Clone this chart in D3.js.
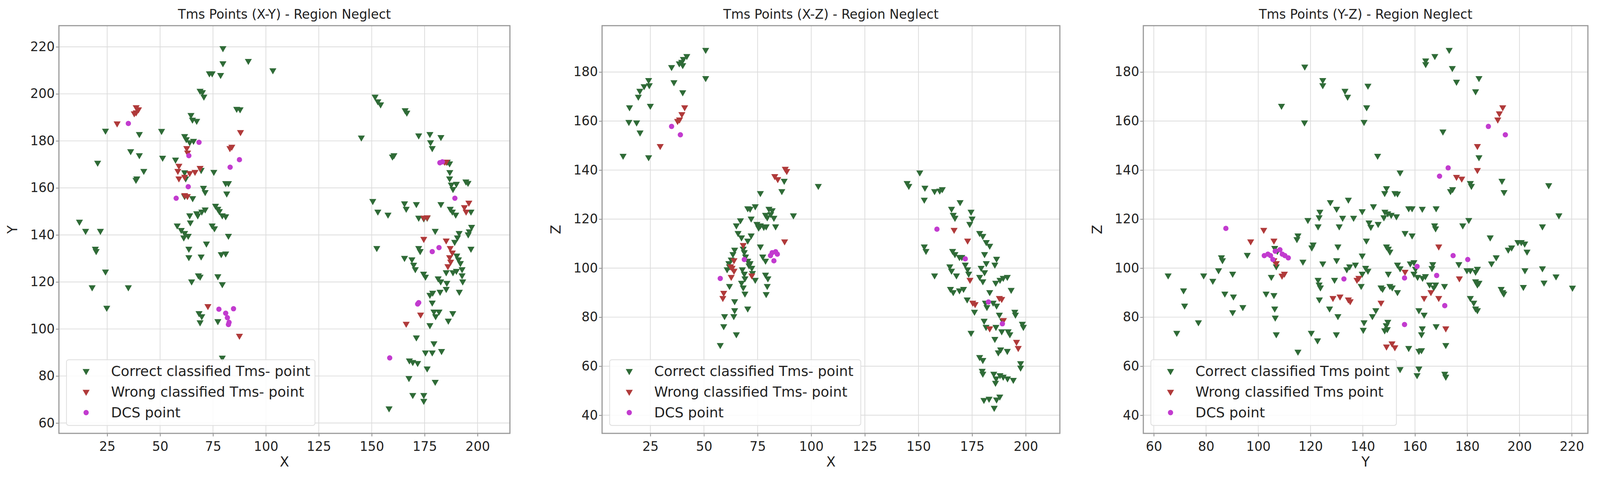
<!DOCTYPE html>
<html>
<head>
<meta charset="UTF-8">
<script src="https://cdn.jsdelivr.net/npm/d3@7"></script>
<style>
  html, body { margin: 0; padding: 0; background: #fff; overflow: hidden; }
  svg { display: block; width: 100vw; height: auto; }
  text { font-family: "DejaVu Sans", sans-serif; fill: #222; }
</style>
</head>
<body>
<svg id="chart" viewBox="0 0 4236 1250" preserveAspectRatio="xMinYMin meet"></svg>
<script>
// Panel 1: X-Y
const xyCorrect = [[79.7,219.4],[79.7,213],[91.7,214],[103.3,210],[73.3,208.7],[74.6,208.7],[78.6,208],[68.9,201.3],[70,200.7],[70.7,198.8],[151.6,198.8],[152.9,196.8],[154.2,195.5],[165.8,193],[166.6,192],[86.2,193.6],[87.8,193.4],[64.6,191],[65.3,189],[67.3,188.5],[24.2,184.3],[40.2,182.9],[50.7,184.2],[61.6,182],[62.4,180.7],[64,179.4],[65.8,180],[145.1,181.4],[172.2,182.3],[177.5,182.9],[182.7,181.6],[177.8,179.4],[178.6,176.9],[36.1,175.6],[40.2,173.9],[51.2,172.8],[20.5,170.7],[57.3,172],[160.5,173.9],[159.8,173.3],[185.7,171.1],[186.8,170.4],[42.3,167.2],[39,164],[38.6,163.4],[69.4,167.6],[75.4,166.8],[186.9,166.7],[186.8,164],[187.6,161.4],[188.4,159.5],[190,161.7],[194.5,162.7],[195.5,162.1],[61.6,166.6],[62.1,164],[70.5,160],[71.3,158.2],[81,162],[82.3,162],[81.5,157.6],[61.6,156.5],[65.4,155.6],[150.5,154.4],[152.9,149.9],[157.7,148.6],[165.5,153.4],[166.3,151.1],[171.1,153.1],[182.7,153.1],[76.2,152.4],[77.3,151.1],[78,150.1],[79.4,148.3],[81,147.9],[67.3,149.2],[69.7,149.9],[71.3,150.8],[67.8,148.3],[64,148.3],[64.3,145.3],[172.2,147.3],[174.6,147],[176.2,147.3],[187.1,151.1],[188.1,149.9],[189.7,148.6],[196.9,149.9],[197.2,143.4],[196.1,141.5],[195.6,140.2],[191.3,140.8],[190.5,138.9],[189.2,137],[58.1,144],[60,142.1],[61.6,140.8],[63.3,139.6],[61.2,138.9],[74.6,144],[75.7,142.8],[82.3,139.6],[11.9,145.6],[14.8,141.7],[21.8,141.7],[180,141.7],[196.9,134.1],[152.4,134.4],[172.2,134.4],[172.9,133.1],[71.9,136.3],[63.6,134.1],[63.6,130.5],[69.4,130.8],[78.9,131.8],[81,132.1],[19.4,134.1],[19.8,133.1],[165.5,130.2],[169,129.6],[169.8,127.3],[170.6,125.4],[190.2,131.2],[191,129.6],[191.9,128],[192.7,125.4],[185.2,124.1],[188.4,124.1],[190,124.7],[192.7,122.8],[193,120.2],[191.4,115.8],[174.5,123.5],[175.4,122.2],[181.4,121.5],[182.6,120.2],[185.5,119.6],[185.2,117],[182.3,115.8],[178.8,115.4],[177.5,114.5],[68.1,122.8],[68.9,122.2],[77.3,122.4],[79.4,119],[64.9,120.2],[24.2,124.4],[17.9,117.7],[35,117.7],[24.8,109],[178.6,111.2],[179.4,107.4],[181.8,107.4],[180.2,105.4],[188.3,106.7],[186.2,103.5],[177.5,101.6],[68.4,106.7],[69.7,105.4],[68.9,102.8],[77.3,103.3],[171.1,96.4],[179.4,93.9],[175.4,90],[178.6,90],[183,90.6],[167.8,86.6],[169.4,85.9],[171.7,85.5],[176.2,83.2],[167.6,79.1],[180,77.5],[169.4,71.9],[174.6,71.9],[174.6,69.4],[158.2,66.2],[79.4,87.8]];
const xyWrong = [[38.7,194.3],[39.8,193.4],[37.8,191.7],[38.7,192.1],[29.7,187.4],[88,183.7],[83,176.9],[83.9,177.5],[62.6,176.9],[63,175],[58.9,169.4],[58.4,167.2],[58.9,164],[64,166.3],[61.6,164.7],[66.5,166.8],[68.9,168.5],[61.6,156.9],[62.9,156.5],[72.6,109.7],[87.5,97.1],[166.3,102.2],[173.1,106.1],[174.6,138.3],[174.6,147.3],[176.2,147.5],[184.4,171.1],[185.2,171.1],[187.1,134.4],[188.1,132.5],[186.8,130.5],[187.3,128.6],[186,126.7],[193.8,151.8],[194.6,149.9],[195.9,153.7],[185.2,137.6]];
const xyDcs = [[35,187.4],[68.4,179.4],[63.6,173.7],[63.3,160.5],[57.6,155.6],[83.1,168.8],[87.5,172],[189.3,155.6],[182.2,170.7],[183.4,171.1],[178.6,132.9],[181.8,134.6],[171.7,110.6],[172.2,111.2],[158.5,87.7],[77.8,108.4],[81,106.7],[81.8,104.8],[82.6,102.8],[82.3,101.9],[84.7,108.6]];

// Panel 2: X-Z
const xzCorrect = [[50.8,189],[50.8,177.5],[42,186.5],[40.4,185.3],[39.6,184.1],[40.1,182.8],[38.5,183.5],[34.9,182],[36,175.8],[40.1,171.7],[24.2,176.7],[24.5,174.6],[22.1,174.2],[20.1,172.3],[19.4,169.9],[25,166.2],[15.3,165.6],[15,159.6],[18.6,159.4],[20.2,155.3],[12.3,145.8],[24.2,145.2],[150.6,139],[144.7,134.7],[145.5,133.5],[153,132.8],[152.7,127.9],[157.5,131.4],[159.9,131.6],[161.1,132.2],[169.4,126.9],[165.4,124.2],[166.2,121.7],[167,120.5],[174.5,123],[175,120.2],[173.9,118],[103.3,133.5],[87.4,135.6],[86.3,131.4],[76.3,130.6],[73.9,125.2],[70.4,124.4],[71.5,124.2],[80.3,124.2],[81.8,123.6],[81.1,122],[79.5,120.7],[78.7,121.7],[82.6,120.5],[91.7,121.5],[72,120.2],[67,119.5],[65.1,117.4],[76.3,117.4],[77.9,116.8],[79,117],[75.5,116.5],[74.7,118],[83.4,117],[65.9,114.3],[67.5,112.5],[72,113.3],[70.4,111.2],[76.3,108.8],[77.4,104.7],[78.7,103],[64.3,107.5],[63.5,105.7],[62.7,103.5],[68.3,107.9],[68.8,106.5],[69.4,104.7],[70.4,103],[71,101.1],[61.6,102],[61.9,100.7],[60.8,99.5],[67.9,99.5],[68.8,97.7],[69.1,95.8],[67.5,94],[68.3,92.1],[69.1,89.6],[71.5,102],[72.3,100.1],[72.6,98],[78.7,97.3],[79.8,95.8],[73.9,95.2],[61.9,92.7],[79.5,92.7],[79,89.4],[64.3,86.5],[64.3,82.8],[63.9,80.4],[59.6,80.4],[59.2,76.3],[70.4,83.5],[65.1,73],[57.6,68.6],[157.5,97],[152.7,108.8],[153.5,107],[165.9,107],[167,105.7],[169.1,104.5],[170.2,104.5],[164.6,100.7],[165.4,98.9],[167.7,97],[164.9,91.5],[166.2,90.2],[169.1,90.9],[171,91.5],[171.8,101.4],[172.9,99.5],[173.4,97.7],[178.5,96.4],[180,94.6],[179.2,100.1],[180.8,98.3],[178.5,114.3],[180,113.1],[181.6,110.6],[183.2,109.1],[180.8,105.7],[181.6,102],[186.4,103.8],[185.6,101.4],[183.2,90.2],[186,94],[188,95.2],[189.5,96],[191.4,96.4],[193.2,91.1],[184.8,85.9],[186.4,84.7],[187.7,81],[189.3,78.5],[188.8,74.2],[186.1,76],[180.6,78.5],[181.5,76],[191.8,74.2],[192.6,73],[194.9,82.2],[195.2,81],[198.4,77.3],[198.9,76],[185.6,71.1],[188.3,66.8],[187.2,65.6],[191.4,66.2],[174.5,73.6],[176.1,82.2],[178.5,63.7],[180,62.5],[179.7,58.1],[180,56.9],[185.1,56.9],[186.2,55],[188,56.3],[189.5,55.7],[185.9,53.2],[191.5,55],[194.2,54.4],[197.6,61.2],[197.6,59.4],[187.9,47.6],[186.4,46.4],[180.5,46.2],[182.9,46.7],[185.3,43],[181.2,85.9],[181.9,84.1],[172.7,87.2]];
const xzWrong = [[41,165.6],[39.7,162.8],[38.6,160.6],[37.7,160],[29.6,149.8],[87.9,140.5],[88.6,139.6],[83,137.5],[84.4,136.3],[87.6,110.9],[68.3,109.4],[62.4,100.7],[64,103.2],[63.1,100.1],[62.7,96.4],[64,98.9],[59.2,89.9],[58.8,87.8],[72.3,97],[166.6,115.6],[172.9,111.2],[174,95.2],[175.3,85.9],[176.4,85.3],[187.7,87.8],[188.8,87.4],[183.2,75.4],[195.7,69.9],[196.5,67.4],[189.6,78.8]];
const xzDcs = [[34.9,157.8],[39,154.4],[57.6,95.8],[68.8,103.5],[81.8,106.3],[83.4,106.7],[84.2,105.7],[82.6,103],[81,105.1],[158.6,115.9],[171.8,103.8],[182.6,86.2],[189.1,77.3]];

// Panel 3: Y-Z
const yzCorrect = [[173.1,189],[167.6,186.5],[164.1,184.7],[164.1,183.2],[174.3,181.6],[117.8,182.2],[175.9,176],[184.5,177.5],[183.2,172.1],[124.7,176.7],[124.7,174.6],[133.2,172.3],[134.2,169.9],[142,174.4],[141.5,165.6],[108.9,166.2],[117.7,159.4],[140.5,159.6],[170.7,155.7],[145.7,145.8],[184.5,145.2],[154.3,139],[181.2,134.7],[181.6,133.5],[193.3,135.6],[194.1,131],[211.2,133.8],[174.4,132.2],[173.6,131.4],[149.1,132.6],[148.4,130.6],[152.3,130.6],[153.3,130.4],[134.5,127.9],[127.6,126.9],[130,124.2],[123.6,123],[123.3,120.7],[122.9,117],[119,119.6],[132.3,120.5],[131,117],[136.5,120.5],[139.8,123.2],[144.1,125.2],[142.4,118.6],[143.1,116.8],[145.9,118],[148.5,123],[149.6,122.3],[150.9,121.7],[152.9,121.1],[148.1,120.7],[157.6,124.4],[158.9,124.4],[162.8,124.2],[168.1,124.4],[167.5,117.4],[167.9,116.2],[178.3,117.4],[180.6,119.6],[188.8,112.5],[215.1,121.5],[208.8,117],[156.2,114.3],[158.9,113.3],[115.2,113.3],[114.8,111.8],[141.4,111.2],[130.5,108.8],[121,109.6],[120.5,108.4],[149.1,108.8],[149.8,107.9],[150.4,106.7],[95.8,105.4],[85.9,104.4],[86.3,103.2],[117.1,102.6],[124.7,101.9],[130,103.2],[139.8,105.1],[106.3,108.2],[107.3,107],[106.9,100.7],[158.2,101.9],[159.6,102.4],[160.2,99.7],[166.8,101.6],[166.5,100],[176.8,101.6],[189.3,101.9],[191.1,104.4],[195.7,107.5],[197,108.4],[199.4,110.6],[200.7,110.6],[202,110],[202.9,106.7],[183.9,99.7],[183.2,98.5],[179.9,99.1],[181.2,99.1],[202.1,99.1],[201.5,92.3],[208.8,99.9],[209.4,94.1],[214,96.6],[220.3,92],[133.9,99.5],[135,100.7],[137.2,101.4],[141.1,100.1],[142,98.9],[139.8,97.7],[149.8,97.7],[153.3,101.4],[154.3,99.9],[65.5,97],[79.1,97],[82.6,94.8],[84.8,99.1],[90.2,97.7],[105,96.4],[129.2,95.2],[122.9,95.2],[123.3,93.3],[123.8,92.1],[139.4,92.7],[147,92.1],[147.6,91.5],[150.4,92.7],[151.3,92.1],[153.3,90.2],[159.6,97.7],[161,96.4],[162.9,96],[164,96.7],[165.6,93.3],[167.9,93.3],[167.2,92.1],[171.3,92.7],[183.2,94.6],[183.9,93.3],[184.5,94],[193,91.5],[193.6,90.2],[194,89.6],[71.4,90.9],[71.8,84.7],[87.2,89.6],[90.5,88.4],[90.2,82],[94.1,84.1],[103,89.6],[106,89],[106.3,83.5],[106.5,79.8],[106.9,73],[77.1,77.9],[68.8,73.6],[123.4,87.2],[127.3,83.5],[130.5,80.4],[120.3,73.6],[122.7,70.5],[129.9,73],[115.2,65.9],[143.7,80.4],[145,82.8],[140.5,77.9],[140.2,74.8],[149.6,78.1],[149,76.7],[149.4,75.1],[148.4,74.6],[181.2,87.8],[182.5,85.9],[183.2,83.5],[183.9,82.8],[161.5,82.8],[163.5,81],[162.8,75.4],[162.5,73],[168.1,76.3],[171.8,68.6],[157.6,67.4],[161.5,66.2],[162.5,66.5],[154.3,58.8],[161.5,59],[160.8,56.3],[171.4,56.9],[171.8,55.7]];
const yzWrong = [[193.6,165.6],[192.3,163.1],[191.7,160.6],[183.9,149.8],[175.9,137.2],[177.9,136.5],[183.9,140],[97.1,110.9],[102.1,115.6],[106,111.2],[106,103.2],[106.9,102],[110,97.7],[109.1,96.9],[128.6,87.8],[131.3,88.4],[134.5,87.2],[135.2,86.5],[137.8,95.2],[138.5,96],[147,85.9],[149.1,68],[151.2,69.3],[152.3,67.7],[156.2,98.5],[163.5,87.8],[166.1,90.2],[169.1,108.8],[169.1,87.8],[171.8,75.4],[177,95.8]];
const yzDcs = [[87.6,116.2],[102.3,105.1],[103.7,105.7],[104.7,105.1],[106.5,106.9],[108.3,107.5],[109.2,105.7],[110.2,105.1],[111.5,104.2],[105.6,103.5],[132.8,95.6],[156,96],[160.8,100.7],[168.3,97],[171.4,84.7],[156,77],[169.4,137.5],[172.7,140.9],[174.6,105.1],[180.2,103.5],[188.1,157.8],[194.6,154.4]];

const xTicks12 = [25, 50, 75, 100, 125, 150, 175, 200];
const yTicksXY = [60, 80, 100, 120, 140, 160, 180, 200, 220];
const zTicks = [40, 60, 80, 100, 120, 140, 160, 180];
const yTicksBottom = [60, 80, 100, 120, 140, 160, 180, 200, 220];

const colGreen = "#2f6b37", colRed = "#b03a3a", colDcs = "#c23bcf";

const panels = [
  { title: "Tms Points (X-Y) - Region Neglect", xl: "X", yl: "Y", x0: 156, x1: 1350,
    xd: [2.2, 215.3], yd: [55.6, 229], xt: xTicks12, yt: yTicksXY,
    correct: xyCorrect, wrong: xyWrong, dcs: xyDcs,
    leg: ["Correct classified Tms- point", "Wrong classified Tms- point", "DCS point"], legW: 658 },
  { title: "Tms Points (X-Z) - Region Neglect", xl: "X", yl: "Z", x0: 1594, x1: 2806,
    xd: [2.5, 215.9], yd: [32.6, 198.9], xt: xTicks12, yt: zTicks,
    correct: xzCorrect, wrong: xzWrong, dcs: xzDcs,
    leg: ["Correct classified Tms- point", "Wrong classified Tms- point", "DCS point"], legW: 665 },
  { title: "Tms Points (Y-Z) - Region Neglect", xl: "Y", yl: "Z", x0: 3027, x1: 4204,
    xd: [56, 226.2], yd: [32.6, 198.9], xt: yTicksBottom, yt: zTicks,
    correct: yzCorrect, wrong: yzWrong, dcs: yzDcs,
    leg: ["Correct classified Tms point", "Wrong classified Tms point", "DCS point"], legW: 650 }
];

const svg = d3.select("#chart");
const plotTop = 68, plotBottom = 1148;
const tri = d3.symbol().type(d3.symbolTriangle).size(150);

panels.forEach(p => {
  const x = d3.scaleLinear().domain(p.xd).range([p.x0, p.x1]);
  const y = d3.scaleLinear().domain(p.yd).range([plotBottom, plotTop]);
  const g = svg.append("g");

  g.append("g").selectAll("line").data(p.xt).join("line")
    .attr("x1", d => x(d)).attr("x2", d => x(d)).attr("y1", plotTop).attr("y2", plotBottom)
    .attr("stroke", "#dcdcdc").attr("stroke-width", 2);
  g.append("g").selectAll("line").data(p.yt).join("line")
    .attr("y1", d => y(d)).attr("y2", d => y(d)).attr("x1", p.x0).attr("x2", p.x1)
    .attr("stroke", "#dcdcdc").attr("stroke-width", 2);

  const xa = g.append("g").attr("transform", `translate(0,${plotBottom})`)
    .call(d3.axisBottom(x).tickValues(p.xt).tickSize(8).tickFormat(d3.format("d")));
  const ya = g.append("g").attr("transform", `translate(${p.x0},0)`)
    .call(d3.axisLeft(y).tickValues(p.yt).tickSize(8).tickFormat(d3.format("d")));
  [xa, ya].forEach(a => {
    a.select(".domain").remove();
    a.selectAll("line").attr("stroke", "#888").attr("stroke-width", 2);
    a.selectAll("text").style("font-size", "34px").attr("fill", "#333");
  });
  xa.selectAll("text").attr("dy", "1.05em");

  g.append("rect").attr("x", p.x0).attr("y", plotTop).attr("width", p.x1 - p.x0).attr("height", plotBottom - plotTop)
    .attr("fill", "none").attr("stroke", "#999").attr("stroke-width", 3);

  g.append("g").selectAll("path").data(p.correct).join("path")
    .attr("d", tri).attr("fill", colGreen)
    .attr("transform", d => `translate(${x(d[0])},${y(d[1])}) rotate(180)`);
  g.append("g").selectAll("path").data(p.wrong).join("path")
    .attr("d", tri).attr("fill", colRed)
    .attr("transform", d => `translate(${x(d[0])},${y(d[1])}) rotate(180)`);
  g.append("g").selectAll("circle").data(p.dcs).join("circle")
    .attr("cx", d => x(d[0])).attr("cy", d => y(d[1])).attr("r", 7).attr("fill", colDcs);

  g.append("text").attr("x", (p.x0 + p.x1) / 2).attr("y", 50).attr("text-anchor", "middle")
    .style("font-size", "34px").text(p.title);
  g.append("text").attr("x", (p.x0 + p.x1) / 2).attr("y", 1236).attr("text-anchor", "middle")
    .style("font-size", "36px").text(p.xl);
  g.append("text").attr("transform", `translate(${p.x0 - 110},${(plotTop + plotBottom) / 2}) rotate(-90)`)
    .attr("text-anchor", "middle").style("font-size", "36px").text(p.yl);

  const lg = g.append("g").attr("transform", `translate(${p.x0 + 20},953)`);
  lg.append("rect").attr("width", p.legW).attr("height", 174).attr("rx", 6)
    .attr("fill", "rgba(255,255,255,0.85)").attr("stroke", "#ddd").attr("stroke-width", 2);
  const cols = [colGreen, colRed, colDcs];
  p.leg.forEach((t, i) => {
    const cy = 30 + i * 55;
    if (i < 2) lg.append("path").attr("d", tri).attr("fill", cols[i])
      .attr("transform", `translate(52,${cy}) rotate(180)`);
    else lg.append("circle").attr("cx", 52).attr("cy", cy).attr("r", 7).attr("fill", cols[i]);
    lg.append("text").attr("x", 118).attr("y", cy + 13).style("font-size", "37px").text(t);
  });
});
</script>
</body>
</html>
